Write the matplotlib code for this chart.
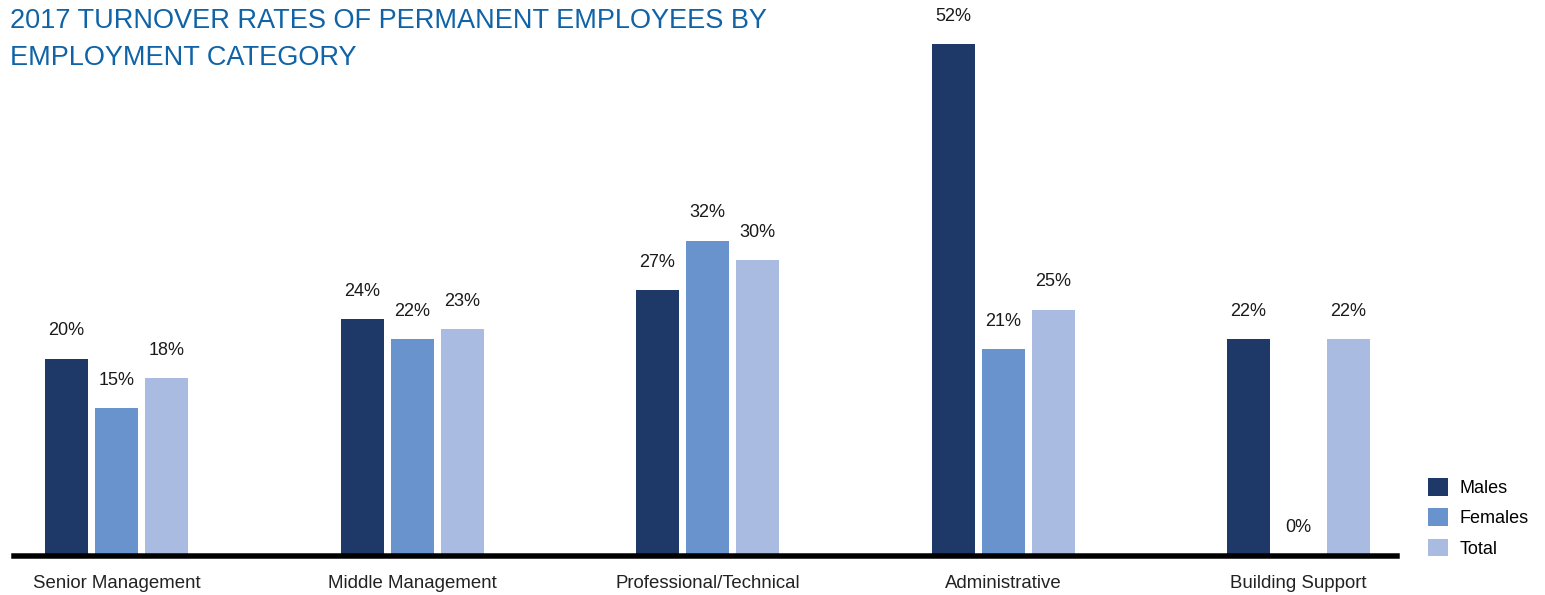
import matplotlib
matplotlib.use("Agg")
import matplotlib.pyplot as plt
import numpy as np

# turnover rates (%) by employment category
categories = ["Senior Management", "Middle Management", "Professional/Technical",
              "Administrative", "Building Support"]
males = [20, 24, 27, 52, 22]
females = [15, 22, 32, 21, 0]
total = [18, 23, 30, 25, 22]

series = [("Males", males, "#1e3868"),
          ("Females", females, "#6993cc"),
          ("Total", total, "#a9bbe1")]

plt.rcParams["font.family"] = ["Liberation Sans", "DejaVu Sans"]

W, H = 1545, 595
fig = plt.figure(figsize=(W / 100, H / 100), dpi=100)
ax = fig.add_axes([13.75 / W, 39.5 / H, 1383.5 / W, 541 / H])

x = np.arange(len(categories))
width = 0.1455
step = 0.1692

handles = []
for i, (name, vals, col) in enumerate(series):
    pos = x + (i - 1) * step
    b = ax.bar(pos, vals, width, color=col, label=name, zorder=1)
    handles.append(b)
    for px, v in zip(pos, vals):
        ax.annotate("%d%%" % v, (px, v), xytext=(0, 20), textcoords="offset points",
                    ha="center", va="center", fontsize=13, color="#1a1a1a",
                    annotation_clip=False)

ax.set_xlim(-0.3477, 4.334)
ax.set_ylim(0, 55)
ax.set_yticks([])
ax.set_xticks(x)
ax.set_xticklabels(categories, fontsize=13.4, color="#222222")
ax.tick_params(axis="x", length=0, pad=14)

for s in ["top", "right", "left"]:
    ax.spines[s].set_visible(False)
ax.spines["bottom"].set_linewidth(3.96)
ax.spines["bottom"].set_color("black")

fig.legend(handles=handles, loc="upper left", bbox_to_anchor=(1428 / W, 1 - 478 / H),
           frameon=False, fontsize=13, handlelength=1.1, handleheight=1.15,
           handletextpad=0.65, labelspacing=0.62, borderpad=0, borderaxespad=0)

title_col = "#0f63a6"
fig.text(10 / W, 1 - 27.5 / H, "2017 TURNOVER RATES OF PERMANENT EMPLOYEES BY",
         fontsize=19.5, color=title_col, va="baseline", ha="left")
fig.text(10 / W, 1 - 65 / H, "EMPLOYMENT CATEGORY",
         fontsize=19.5, color=title_col, va="baseline", ha="left")

fig.savefig("out.png", dpi=100)
